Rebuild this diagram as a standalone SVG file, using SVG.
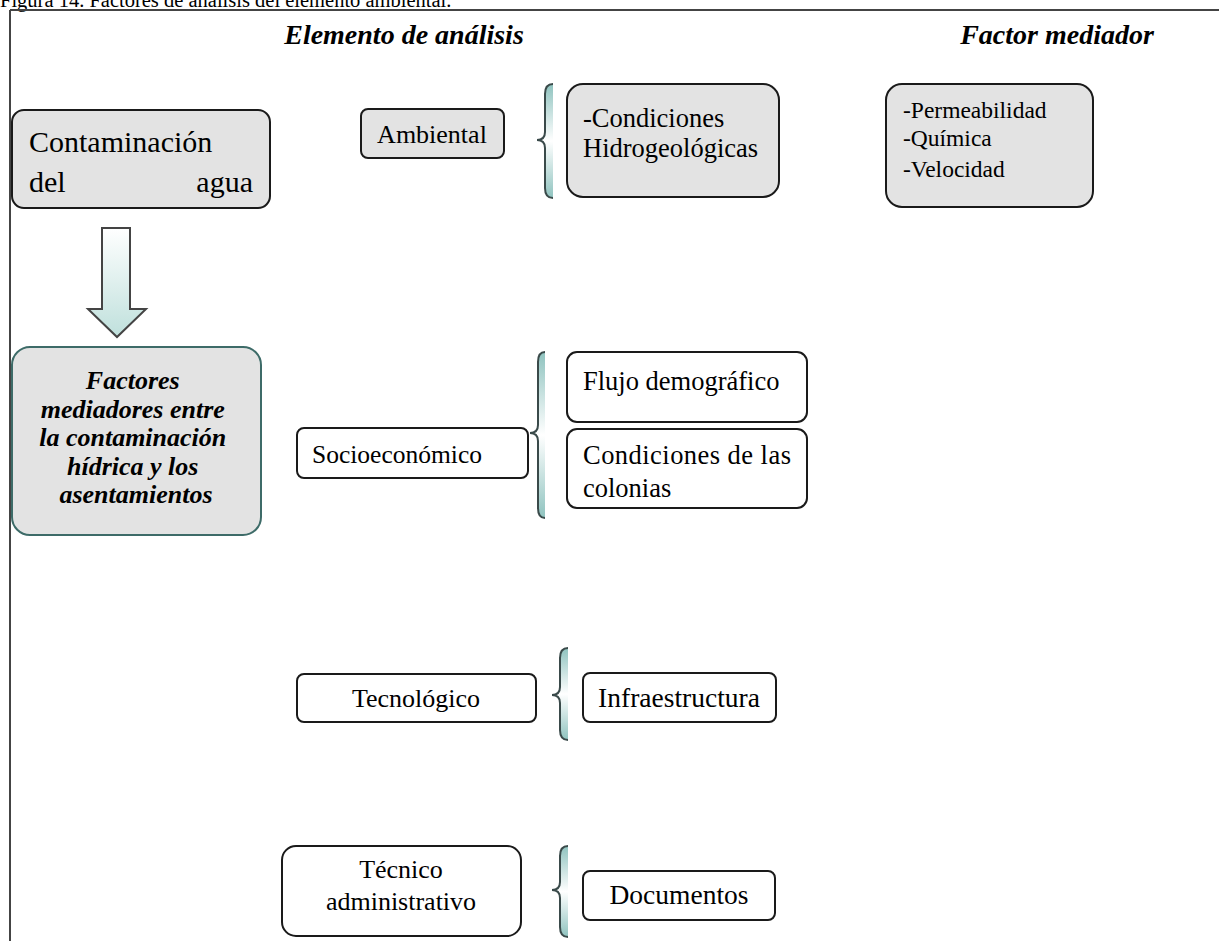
<svg xmlns="http://www.w3.org/2000/svg" width="1219" height="941" viewBox="0 0 1219 941">
<defs>
<linearGradient id="arrowGrad" x1="0" y1="0" x2="0" y2="1">
<stop offset="0" stop-color="#ffffff"/>
<stop offset="1" stop-color="#bfe0dc"/>
</linearGradient>
<linearGradient id="braceGrad" x1="0" y1="0" x2="0" y2="1">
<stop offset="0" stop-color="#8fc3bf"/>
<stop offset="0.5" stop-color="#ffffff"/>
<stop offset="1" stop-color="#8fc3bf"/>
</linearGradient>
<style>
.t{font-family:"Liberation Serif","Times New Roman",serif;fill:#000}
.bi{font-weight:bold;font-style:italic}
.grey{fill:#e3e3e3;stroke:#1a1a1a;stroke-width:2}
.white{fill:#ffffff;stroke:#1a1a1a;stroke-width:2}
.bfill{fill:url(#braceGrad);stroke:none}
.bline{fill:none;stroke:#3a4a4a;stroke-width:2}
</style>
</defs>
<rect width="1219" height="941" fill="#ffffff"/>
<text class="t" x="0" y="7" font-size="20.5">Figura 14. Factores de análisis del elemento ambiental.</text>
<g id="frame">
<line x1="10" y1="10" x2="1219" y2="10" stroke="#444" stroke-width="2"/>
<line x1="10" y1="10" x2="10" y2="941" stroke="#444" stroke-width="2"/>
</g>
<g id="headers">
<text class="t bi" x="404" y="44" font-size="28" text-anchor="middle">Elemento de análisis</text>
<text class="t bi" x="1057" y="44" font-size="28" text-anchor="middle">Factor mediador</text>
</g>
<g id="contaminacion">
<rect class="grey" x="12" y="110" width="258" height="98" rx="12"/>
<text class="t" x="29" y="152" font-size="30">Contaminación</text>
<text class="t" x="29" y="192" font-size="30">del</text>
<text class="t" x="253" y="192" font-size="30" text-anchor="end">agua</text>
</g>
<g id="connectors">
<path d="M102,228 L130,228 L130,309 L146,309 L117,337 L88,309 L102,309 Z" fill="url(#arrowGrad)" stroke="#444" stroke-width="2"/>
</g>
<g id="factores">
<rect x="12" y="347" width="249" height="188" rx="18" fill="#e3e3e3" stroke="#3d6b68" stroke-width="2"/>
<text class="t bi" font-size="26" text-anchor="middle">
<tspan x="136" y="389">Factores</tspan>
<tspan x="136" y="418">mediadores entre</tspan>
<tspan x="136" y="446">la contaminación</tspan>
<tspan x="136" y="475">hídrica y los</tspan>
<tspan x="136" y="503">asentamientos</tspan>
</text>
</g>
<g id="ambiental">
<rect class="grey" x="361" y="109" width="143" height="49" rx="7"/>
<text class="t" x="432" y="143" font-size="26" text-anchor="middle">Ambiental</text>
</g>
<g id="brace1">
<path class="bfill" d="M553,84 Q545,84 545,94 L545,132 Q545,140 537,140 Q545,140 545,148 L545,188 Q545,198 553,198 Z"/>
<path class="bline" d="M553,84 Q545,84 545,94 L545,132 Q545,140 537,140 Q545,140 545,148 L545,188 Q545,198 553,198"/>
</g>
<g id="hidro">
<rect class="grey" x="567" y="84" width="212" height="113" rx="16"/>
<text class="t" x="583" y="127" font-size="26.5">-Condiciones</text>
<text class="t" x="583" y="157" font-size="26.5">Hidrogeológicas</text>
</g>
<g id="factorMediador">
<rect class="grey" x="886" y="84" width="207" height="123" rx="16"/>
<text class="t" x="903" y="118" font-size="23.5">-Permeabilidad</text>
<text class="t" x="903" y="146" font-size="23.5">-Química</text>
<text class="t" x="903" y="177" font-size="23.5">-Velocidad</text>
</g>
<g id="socio">
<rect class="white" x="297" y="428" width="231" height="50" rx="7"/>
<text class="t" x="312" y="463" font-size="25.5">Socioeconómico</text>
</g>
<g id="brace2">
<path class="bfill" d="M545,352 Q538,352 538,362 L538,425 Q538,433 530,433 Q538,433 538,441 L538,508 Q538,518 545,518 Z"/>
<path class="bline" d="M545,352 Q538,352 538,362 L538,425 Q538,433 530,433 Q538,433 538,441 L538,508 Q538,518 545,518"/>
</g>
<g id="flujo">
<rect class="white" x="567" y="352" width="240" height="70" rx="10"/>
<text class="t" x="583" y="390" font-size="26.5">Flujo demográfico</text>
</g>
<g id="colonias">
<rect class="white" x="567" y="429" width="240" height="79" rx="10"/>
<text class="t" x="583" y="464" font-size="26.5" textLength="208" lengthAdjust="spacing">Condiciones de las</text>
<text class="t" x="583" y="497" font-size="26.5">colonias</text>
</g>
<g id="tecnologico">
<rect class="white" x="297" y="674" width="239" height="48" rx="7"/>
<text class="t" x="416" y="707" font-size="26" text-anchor="middle">Tecnológico</text>
</g>
<g id="brace3">
<path class="bfill" d="M568,648 Q560,648 560,658 L560,687 Q560,695 552,695 Q560,695 560,703 L560,730 Q560,740 568,740 Z"/>
<path class="bline" d="M568,648 Q560,648 560,658 L560,687 Q560,695 552,695 Q560,695 560,703 L560,730 Q560,740 568,740"/>
</g>
<g id="infra">
<rect class="white" x="583" y="673" width="193" height="49" rx="7"/>
<text class="t" x="679" y="707" font-size="27.5" text-anchor="middle">Infraestructura</text>
</g>
<g id="tecnicoAdmin">
<rect class="white" x="282" y="846" width="239" height="90" rx="14"/>
<text class="t" x="401" y="878" font-size="26" text-anchor="middle">Técnico</text>
<text class="t" x="401" y="910" font-size="26" text-anchor="middle">administrativo</text>
</g>
<g id="brace4">
<path class="bfill" d="M568,846 Q560,846 560,856 L560,882 Q560,890 552,890 Q560,890 560,898 L560,927 Q560,937 568,937 Z"/>
<path class="bline" d="M568,846 Q560,846 560,856 L560,882 Q560,890 552,890 Q560,890 560,898 L560,927 Q560,937 568,937"/>
</g>
<g id="documentos">
<rect class="white" x="583" y="871" width="192" height="49" rx="7"/>
<text class="t" x="679" y="904" font-size="27.5" text-anchor="middle">Documentos</text>
</g>
</svg>
